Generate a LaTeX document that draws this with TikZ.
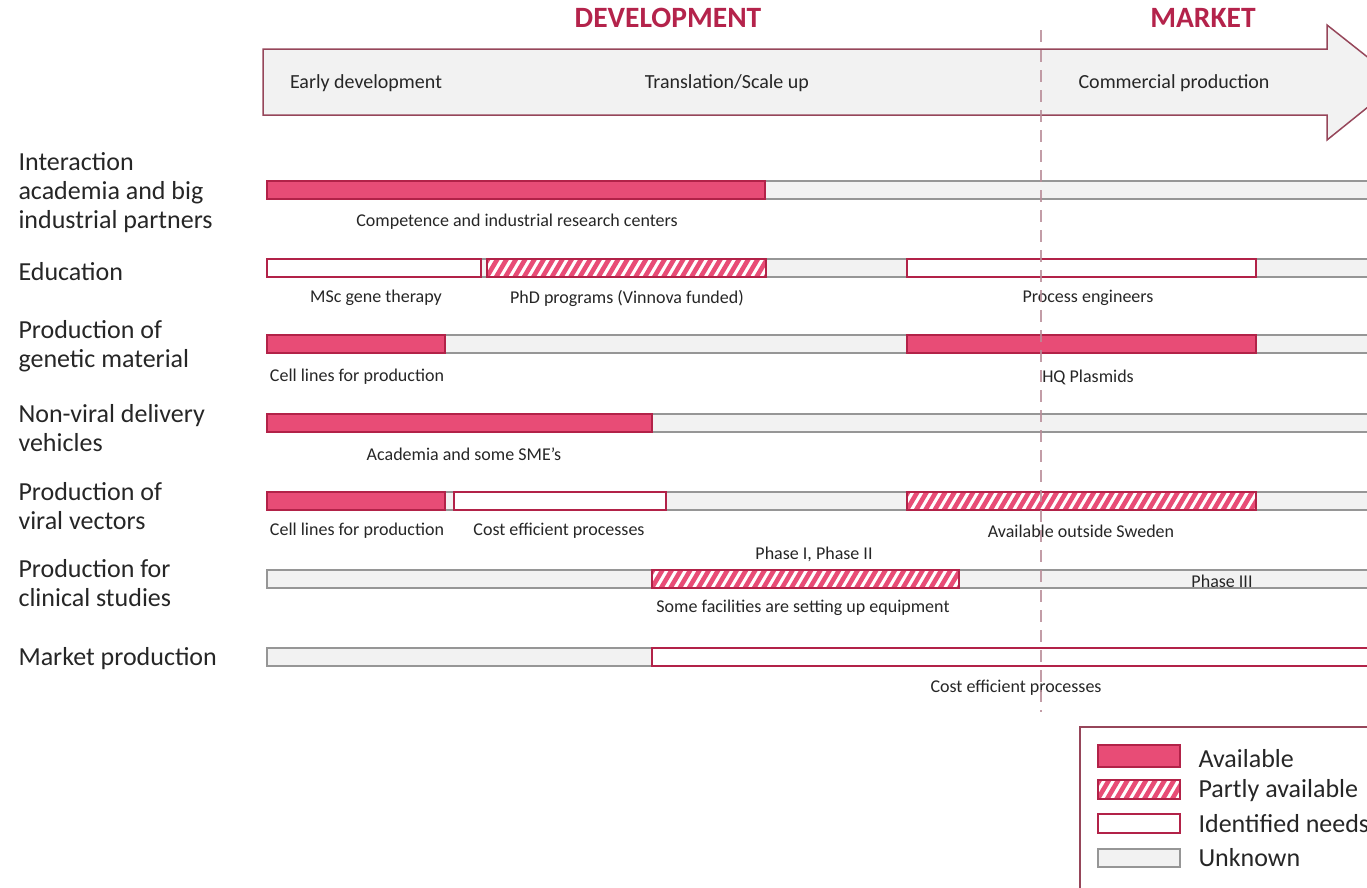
\documentclass[tikz,border=0pt]{standalone}
\usepackage{fontspec}
\setmainfont{Carlito}
\usepackage{tikz}

\definecolor{crim}{RGB}{180,35,75}
\definecolor{availfill}{RGB}{232,76,118}
\definecolor{availdraw}{RGB}{178,34,72}
\definecolor{unkfill}{RGB}{242,242,242}
\definecolor{unkdraw}{RGB}{150,150,150}
\definecolor{arrowdraw}{RGB}{150,70,90}
\definecolor{dashcol}{RGB}{185,140,152}
\definecolor{txt}{RGB}{38,38,38}

% hatched bar: left, right, top, bottom
\newcommand{\hatchbar}[4]{%
  \begin{scope}
    \clip (#1,#3) rectangle (#2,#4);
    \fill[white] (#1,#3) rectangle (#2,#4);
    \foreach \s in {-20,-10.7,...,420}
      \draw[availfill,line width=4.6pt] ({#1+\s},#4+2) -- ++(13,-22);
  \end{scope}
  \draw[draw=availdraw,line width=2.5pt] (#1,#3) rectangle (#2,#4);
}

\begin{document}
\begin{tikzpicture}[x=1pt,y=-1pt,text=txt,
    avail/.style={fill=availfill,draw=availdraw,line width=2.5pt},
    needs/.style={fill=white,draw=availdraw,line width=2.5pt},
    unknown/.style={fill=unkfill,draw=unkdraw,line width=1.3pt},
    rowlbl/.style={anchor=west,align=left,font=\fontsize{26}{29}\selectfont},
    barlbl/.style={font=\fontsize{18}{20}\selectfont},
    phaselbl/.style={font=\fontsize{20}{24}\selectfont},
    headlbl/.style={text=crim,font=\fontsize{29.5}{32}\selectfont\bfseries},
    leglbl/.style={anchor=west,font=\fontsize{26}{30}\selectfont}]
  \useasboundingbox (0,0) rectangle (1367,887);
  \clip (0,0) rectangle (1367,887);

  % timeline
  \draw[fill=unkfill,draw=arrowdraw,line width=1.5pt]
    (263,49) -- (1327,49) -- (1327,25) -- (1399,82) -- (1327,140) -- (1327,115) -- (263,115) -- cycle;
  \node[headlbl] (dev) at (668,18) {DEVELOPMENT};
  \node[headlbl] (mkt) at (1203,18) {MARKET};
  \node[phaselbl] (early) at (366,83) {Early development};
  \node[phaselbl] (trans) at (727,83) {Translation/Scale up};
  \node[phaselbl] (comm) at (1174,83) {Commercial production};

  % row titles
  \node[rowlbl] (r1) at (15,193) {Interaction\\academia and big\\industrial partners};
  \node[rowlbl] (r2) at (15,272) {Education};
  \node[rowlbl] (r3) at (15,346) {Production of\\genetic material};
  \node[rowlbl] (r4) at (15,428) {Non-viral delivery\\vehicles};
  \node[rowlbl] (r5) at (15,506) {Production of\\viral vectors};
  \node[rowlbl] (r6) at (15,583) {Production for\\clinical studies};
  \node[rowlbl] (r7) at (15,659) {Market production};

  % interaction
  \draw[unknown] (267,181) rectangle (1380,199);
  \draw[avail] (267,181) rectangle (765,199);
  \node[barlbl] (b1) at (517,222) {Competence and industrial research centers};

  % education
  \draw[unknown] (267,259) rectangle (1380,277);
  \draw[needs] (267,259) rectangle (481,277);
  \hatchbar{487}{766}{259}{277}
  \draw[needs] (907,259) rectangle (1256,277);
  \node[barlbl] (b2a) at (376,298) {MSc gene therapy};
  \node[barlbl] (b2b) at (627,298) {PhD programs (Vinnova funded)};
  \node[barlbl] (b2c) at (1088,298) {Process engineers};

  % genetic material
  \draw[unknown] (267,335) rectangle (1380,353);
  \draw[avail] (267,335) rectangle (445,353);
  \draw[avail] (907,335) rectangle (1256,353);
  \node[barlbl] (b3a) at (357,377) {Cell lines for production};
  \node[barlbl] (b3b) at (1088,377) {HQ Plasmids};

  % non-viral
  \draw[unknown] (267,414) rectangle (1380,432);
  \draw[avail] (267,414) rectangle (652,432);
  \node[barlbl] (b4) at (464,454) {Academia and some SME’s};

  % viral vectors
  \draw[unknown] (267,492) rectangle (1380,510);
  \draw[avail] (267,492) rectangle (445,510);
  \draw[needs] (454,492) rectangle (666,510);
  \hatchbar{907}{1256}{492}{510}
  \node[barlbl] (b5a) at (357,531) {Cell lines for production};
  \node[barlbl] (b5b) at (559,531) {Cost efficient processes};
  \node[barlbl] (b5c) at (1081,531) {Available outside Sweden};

  % clinical studies
  \draw[unknown] (267,570) rectangle (1380,588);
  \hatchbar{652}{959}{570}{588}
  \node[barlbl] (b6a) at (814,554) {Phase I, Phase II};
  \node[barlbl] (b6b) at (803,608) {Some facilities are setting up equipment};
  \node[barlbl] (b6c) at (1222,581) {Phase III};

  % market production
  \draw[unknown] (267,648) rectangle (1380,666);
  \draw[needs] (652,648) rectangle (1380,666);
  \node[barlbl] (b7) at (1016,688) {Cost efficient processes};

  % development / market border
  \draw[dashcol,line width=2.5pt,dash pattern=on 12pt off 8pt,opacity=.85] (1041,30) -- (1041,712);

  % legend
  \draw[draw=arrowdraw,line width=1.5pt] (1080,727) rectangle (1400,900);
  \draw[avail] (1098,745) rectangle (1180,767);
  \hatchbar{1098}{1180}{780}{799}
  \draw[needs] (1098,814) rectangle (1180,833);
  \draw[unknown] (1098,849) rectangle (1180,867);
  \node[leglbl] (l1) at (1195,759) {Available};
  \node[leglbl] (l2) at (1195,791) {Partly available};
  \node[leglbl] (l3) at (1195,824) {Identified needs};
  \node[leglbl] (l4) at (1195,858) {Unknown};
\end{tikzpicture}
\end{document}
